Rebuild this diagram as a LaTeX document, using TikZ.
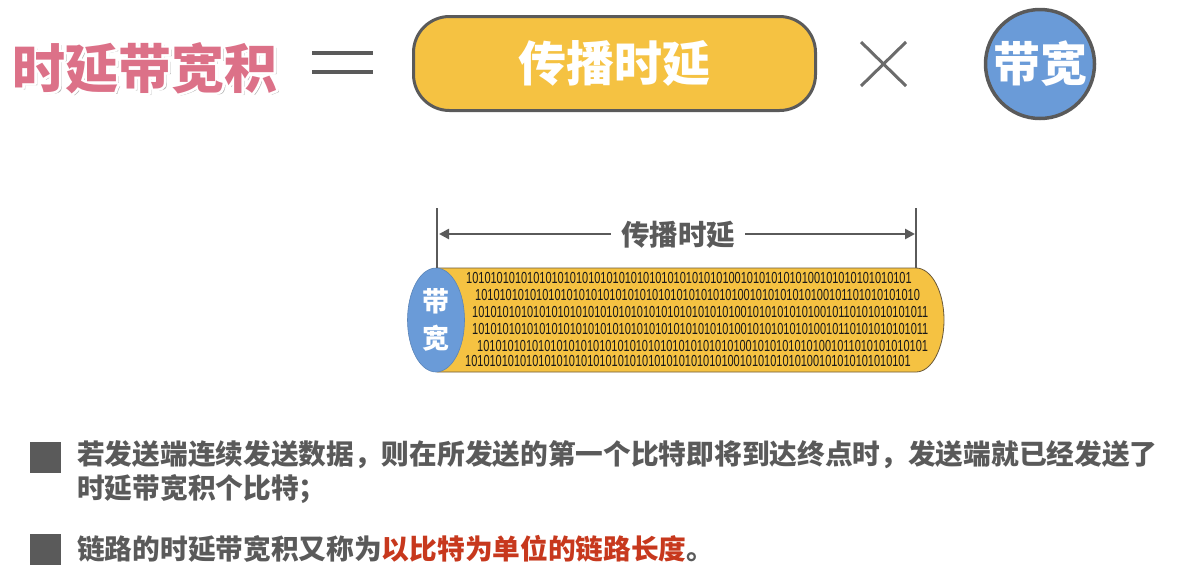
\documentclass[tikz,border=0pt]{standalone}
\usepackage{fontspec}
\setmainfont{Noto Sans CJK SC}
\newfontfamily\digitfont{Liberation Sans}
\usetikzlibrary{arrows.meta,shapes.geometric}
\definecolor{tpink}{HTML}{DC7188}
\definecolor{tyellow}{HTML}{F5C242}
\definecolor{tblue}{HTML}{6A9BD8}
\definecolor{tgray}{HTML}{5A5A5A}
\definecolor{tred}{HTML}{C7381D}
\definecolor{tedge}{HTML}{6B5A3A}
\newcommand\mytitletext{\fontsize{53}{53}\selectfont\bfseries 时延带宽积}
\tikzset{
  binline/.style={anchor=west,inner sep=0pt,font=\digitfont\fontsize{16}{16}\selectfont,text=black!90},
  bultext/.style={anchor=west,inner sep=0pt,font=\fontsize{27.7}{34}\selectfont\bfseries,text=tgray},
  bulbox/.style={fill=tgray,minimum size=31pt,inner sep=0pt},
  grayline/.style={draw=tgray,line width=4pt},
}
\begin{document}
\begin{tikzpicture}[x=1pt,y=-1pt]
\useasboundingbox (0,0) rectangle (1188,582);
% title: soft shadow, white outline (stroked glyphs), pink fill
\node[text=black!30,inner sep=0pt] (tshadow) at (147.5,70.5) {\mytitletext};
\node[text=white,inner sep=0pt] (toutline) at (145,68) {\special{pdf:code 4.5 w 1 j 1 Tr}\mytitletext\special{pdf:code 0 Tr}};
\node[text=tpink,inner sep=0pt] (title) at (145,68) {\mytitletext};
% equals
\coordinate (eq1a) at (312,53); \coordinate (eq1b) at (373,53);
\coordinate (eq2a) at (312,72); \coordinate (eq2b) at (373,72);
\draw[grayline] (eq1a) -- (eq1b);
\draw[grayline] (eq2a) -- (eq2b);
% propagation delay box
\node[draw=tgray,line width=3pt,fill=tyellow,rounded corners=36pt,minimum width=402pt,minimum height=94pt,
      text=white,font=\fontsize{48}{48}\selectfont\bfseries] (delay) at (614.5,63.5) {传播时延};
% times
\coordinate (x1) at (861,42); \coordinate (x2) at (906,86);
\coordinate (x3) at (861,86); \coordinate (x4) at (906,42);
\draw[draw=tgray!90,line width=3pt] (x1) -- (x2);
\draw[draw=tgray!90,line width=3pt] (x3) -- (x4);
% bandwidth circle
\node[circle,draw=tgray,line width=3.5pt,fill=tblue,minimum size=109pt,inner sep=0pt,
      text=white,font=\fontsize{47}{47}\selectfont\bfseries] (bw) at (1040,64) {带宽};
% cylinder body
\fill[tyellow,draw=tedge,line width=0.8pt] (437,268) -- (916,268)
   arc[start angle=-90,end angle=90,x radius=28,y radius=52] -- (437,372) -- cycle;
% binary text
\node[binline] (b1) at (466,278) {\scalebox{0.686}[1]{1010101010101010101010101010101010101010101001010101010100101010101010101}};
\node[binline] (b2) at (475,295) {\scalebox{0.686}[1]{1010101010101010101010101010101010101010101001010101010100101101010101010}};
\node[binline] (b3) at (472,312) {\scalebox{0.686}[1]{101010101010101010101010101010101010101010100101010101010010110101010101011}};
\node[binline] (b4) at (472,329) {\scalebox{0.686}[1]{101010101010101010101010101010101010101010100101010101010010110101010101011}};
\node[binline] (b5) at (477,346) {\scalebox{0.686}[1]{10101010101010101010101010101010101010101010010101010101001011010101010101}};
\node[binline] (b6) at (465,361) {\scalebox{0.686}[1]{1010101010101010101010101010101010101010101001010101010100101010101010101}};
% bandwidth ellipse
\node[ellipse,draw=tblue!85!black,line width=0.6pt,fill=tblue,minimum width=57pt,minimum height=104pt,inner sep=0pt,
      text=white,font=\fontsize{27}{37}\selectfont\bfseries,align=center] (bwe) at (436,320) {带\\宽};
% dimension lines
\coordinate (vl1) at (437,208); \coordinate (vl2) at (437,268);
\coordinate (vr1) at (916,208); \coordinate (vr2) at (916,268);
\draw[tgray,line width=1.5pt] (vl1) -- (vl2);
\draw[tgray,line width=1.5pt] (vr1) -- (vr2);
\node[text=tgray,font=\fontsize{28.5}{28.5}\selectfont\bfseries,inner xsep=10pt,inner ysep=0pt] (plabel) at (678,235) {传播时延};
\coordinate (aL) at (439,234); \coordinate (aR) at (915,234);
\draw[tgray,line width=2.5pt,-{Triangle[length=10pt,width=10pt]}] (plabel.west |- aL) -- (aL);
\draw[tgray,line width=2.5pt,-{Triangle[length=10pt,width=10pt]}] (plabel.east |- aR) -- (aR);
% bullets
\node[bulbox] (sq1) at (45,457.5) {};
\node[bulbox] (sq2) at (45,549) {};
\node[bultext] (t1) at (77,455) {若发送端连续发送数据，则在所发送的第一个比特即将到达终点时，发送端就已经发送了};
\node[bultext] (t2) at (77,489) {时延带宽积个比特；};
\node[bultext] (t3) at (77,549) {链路的时延带宽积又称为{\color{tred}以比特为单位的链路长度}。};
\end{tikzpicture}
\end{document}
